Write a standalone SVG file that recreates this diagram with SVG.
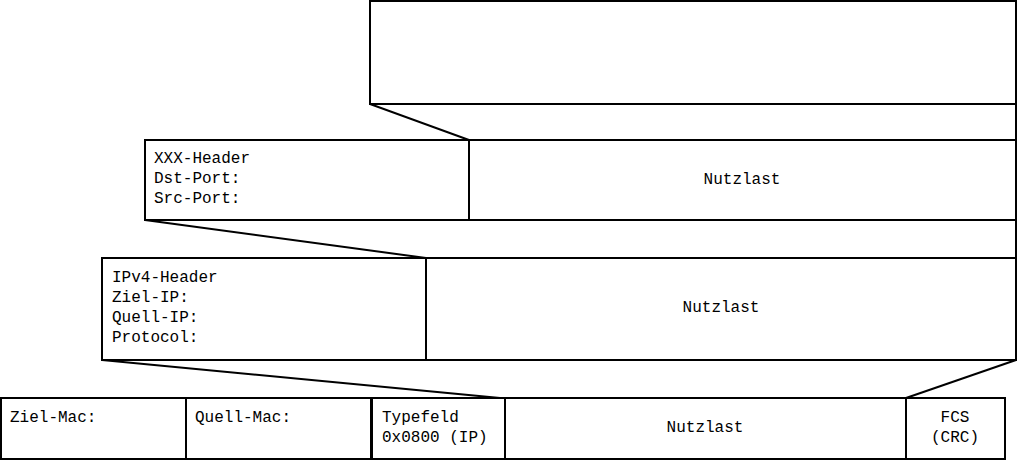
<svg xmlns="http://www.w3.org/2000/svg" width="1019" height="463" viewBox="0 0 1019 463">
<style>
.box{fill:#fff;stroke:#000;stroke-width:2}
.ln{fill:none;stroke:#000;stroke-width:2}
text{font-family:"Liberation Mono","Courier New",monospace;font-size:16px;fill:#000}
.c{text-anchor:middle}
</style>
<rect width="1019" height="463" fill="#fff"/>
<g id="app-data">
<rect class="box" x="370" y="1" width="646" height="103"/>
</g>
<g id="transport-header">
<rect class="box" x="145" y="140" width="324" height="80"/>
<text x="154" y="163">XXX-Header</text>
<text x="154" y="183">Dst-Port:</text>
<text x="154" y="203">Src-Port:</text>
</g>
<g id="transport-payload">
<rect class="box" x="469" y="140" width="547" height="80"/>
<text class="c" x="742" y="184">Nutzlast</text>
</g>
<g id="ip-header">
<rect class="box" x="102" y="258" width="324" height="102"/>
<text x="112" y="282">IPv4-Header</text>
<text x="112" y="302">Ziel-IP:</text>
<text x="112" y="322">Quell-IP:</text>
<text x="112" y="342">Protocol:</text>
</g>
<g id="ip-payload">
<rect class="box" x="426" y="258" width="590" height="102"/>
<text class="c" x="721" y="312">Nutzlast</text>
</g>
<g id="eth-dst">
<rect class="box" x="1" y="398" width="185" height="61"/>
<text x="10" y="422">Ziel-Mac:</text>
</g>
<g id="eth-src">
<rect class="box" x="186" y="398" width="185" height="61"/>
<text x="195" y="422">Quell-Mac:</text>
</g>
<g id="eth-type">
<rect class="box" x="372" y="398" width="133" height="61"/>
<text x="382" y="422">Typefeld</text>
<text x="382" y="442">0x0800 (IP)</text>
</g>
<g id="eth-payload">
<rect class="box" x="505" y="398" width="401" height="61"/>
<text class="c" x="705" y="432">Nutzlast</text>
</g>
<g id="eth-fcs">
<rect class="box" x="906" y="398" width="99" height="61"/>
<text class="c" x="955" y="422">FCS</text>
<text class="c" x="955" y="442">(CRC)</text>
</g>
<g id="connectors">
<line class="ln" x1="370" y1="104" x2="469" y2="140"/>
<line class="ln" x1="1016" y1="104" x2="1016" y2="140"/>
<line class="ln" x1="145" y1="220" x2="426" y2="258"/>
<line class="ln" x1="1016" y1="220" x2="1016" y2="258"/>
<line class="ln" x1="102" y1="360" x2="500" y2="398"/>
<line class="ln" x1="1016" y1="360" x2="906" y2="398"/>
</g>
</svg>
